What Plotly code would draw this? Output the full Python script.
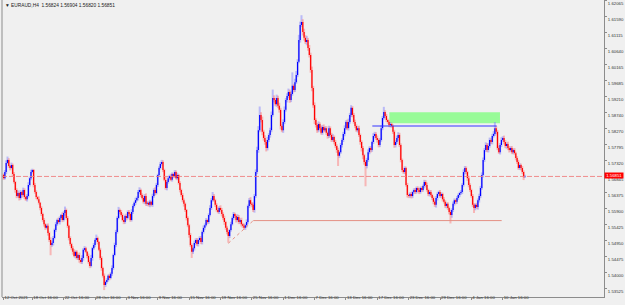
import plotly.graph_objects as go

# ---------------- data (EURAUD, H4) ----------------
symbol_header = "▼ EURAUD,H4  1.56824 1.56904 1.56820 1.56851"
bid_price = 1.56851
first_open = 1.5690

closes = [
    1.5680, 1.5698, 1.5725, 1.5734, 1.5716, 1.5710, 1.5719, 1.5692, 1.5669, 1.5645,
    1.5627, 1.5636, 1.5621, 1.5639, 1.5630, 1.5645, 1.5624, 1.5618, 1.5627, 1.5660,
    1.5680, 1.5698, 1.5704, 1.5660, 1.5639, 1.5624, 1.5618, 1.5607, 1.5592, 1.5574,
    1.5556, 1.5544, 1.5533, 1.5539, 1.5518, 1.5497, 1.5482, 1.5488, 1.5503, 1.5527,
    1.5544, 1.5556, 1.5550, 1.5562, 1.5571, 1.5556, 1.5577, 1.5586, 1.5562, 1.5539,
    1.5503, 1.5485, 1.5473, 1.5462, 1.5450, 1.5462, 1.5444, 1.5453, 1.5438, 1.5432,
    1.5444, 1.5468, 1.5473, 1.5462, 1.5450, 1.5432, 1.5420, 1.5444, 1.5473, 1.5482,
    1.5497, 1.5503, 1.5491, 1.5468, 1.5444, 1.5414, 1.5391, 1.5364, 1.5373, 1.5379,
    1.5391, 1.5385, 1.5397, 1.5414, 1.5453, 1.5482, 1.5521, 1.5562, 1.5586, 1.5580,
    1.5571, 1.5556, 1.5550, 1.5568, 1.5562, 1.5580, 1.5574, 1.5556, 1.5580, 1.5598,
    1.5607, 1.5615, 1.5621, 1.5639, 1.5645, 1.5630, 1.5621, 1.5610, 1.5627, 1.5604,
    1.5607, 1.5601, 1.5610, 1.5601, 1.5627, 1.5645, 1.5636, 1.5660, 1.5689, 1.5710,
    1.5722, 1.5728, 1.5704, 1.5675, 1.5651, 1.5669, 1.5680, 1.5686, 1.5675, 1.5692,
    1.5686, 1.5698, 1.5680, 1.5689, 1.5666, 1.5645, 1.5630, 1.5615, 1.5604, 1.5586,
    1.5562, 1.5541, 1.5512, 1.5482, 1.5462, 1.5473, 1.5488, 1.5497, 1.5485, 1.5497,
    1.5503, 1.5491, 1.5521, 1.5533, 1.5541, 1.5556, 1.5550, 1.5571, 1.5592, 1.5615,
    1.5627, 1.5615, 1.5601, 1.5586, 1.5580, 1.5592, 1.5586, 1.5574, 1.5562, 1.5550,
    1.5533, 1.5521, 1.5509, 1.5527, 1.5544, 1.5562, 1.5574, 1.5568, 1.5556, 1.5565,
    1.5550, 1.5556, 1.5544, 1.5539, 1.5533, 1.5541, 1.5550, 1.5598, 1.5615, 1.5604,
    1.5601, 1.5586, 1.5627, 1.5698, 1.5763, 1.5822, 1.5867, 1.5852, 1.5817, 1.5799,
    1.5787, 1.5769, 1.5793, 1.5808, 1.5822, 1.5867, 1.5917, 1.5911, 1.5899, 1.5917,
    1.5894, 1.5882, 1.5834, 1.5822, 1.5846, 1.5882, 1.5911, 1.5923, 1.5935, 1.5911,
    1.5929, 1.5953, 1.5941, 1.5964, 1.5985, 1.6024, 1.6089, 1.6133, 1.6142, 1.6112,
    1.6095, 1.6083, 1.6089, 1.6065, 1.6044, 1.6000, 1.5947, 1.5896, 1.5852, 1.5837,
    1.5822, 1.5840, 1.5828, 1.5814, 1.5831, 1.5822, 1.5828, 1.5814, 1.5805, 1.5828,
    1.5808, 1.5793, 1.5802, 1.5787, 1.5775, 1.5763, 1.5746, 1.5757, 1.5778, 1.5793,
    1.5811, 1.5828, 1.5846, 1.5828, 1.5846, 1.5867, 1.5888, 1.5867, 1.5846, 1.5834,
    1.5822, 1.5828, 1.5808, 1.5787, 1.5769, 1.5748, 1.5728, 1.5716, 1.5734, 1.5757,
    1.5769, 1.5763, 1.5787, 1.5805, 1.5811, 1.5799, 1.5793, 1.5778, 1.5793, 1.5828,
    1.5858, 1.5876, 1.5864, 1.5852, 1.5846, 1.5837, 1.5840, 1.5834, 1.5817, 1.5778,
    1.5787, 1.5799, 1.5808, 1.5778, 1.5734, 1.5704, 1.5698, 1.5710, 1.5660, 1.5630,
    1.5627, 1.5633, 1.5627, 1.5639, 1.5645, 1.5639, 1.5651, 1.5645, 1.5639, 1.5651,
    1.5645, 1.5657, 1.5669, 1.5660, 1.5645, 1.5633, 1.5639, 1.5630, 1.5621, 1.5610,
    1.5601, 1.5621, 1.5633, 1.5639, 1.5627, 1.5633, 1.5618, 1.5610, 1.5598, 1.5604,
    1.5592, 1.5580, 1.5571, 1.5586, 1.5604, 1.5615, 1.5610, 1.5621, 1.5630, 1.5636,
    1.5639, 1.5660, 1.5698, 1.5710, 1.5698, 1.5680, 1.5660, 1.5645, 1.5627, 1.5601,
    1.5592, 1.5601, 1.5595, 1.5615, 1.5627, 1.5651, 1.5689, 1.5734, 1.5763, 1.5778,
    1.5763, 1.5775, 1.5793, 1.5787, 1.5805, 1.5811, 1.5828, 1.5817, 1.5769, 1.5757,
    1.5778, 1.5793, 1.5799, 1.5787, 1.5775, 1.5781, 1.5769, 1.5763, 1.5769, 1.5757,
    1.5763, 1.5754, 1.5740, 1.5728, 1.5710, 1.5719, 1.5710, 1.5698, 1.56824, 1.56851,
]

# wick lengths above / below the body, in pips
upper_wick_pips = [
    4, 6, 8, 10, 5, 3, 7, 4, 6, 3,
    5, 8, 4, 6, 3, 7, 5, 4, 6, 8,
    5, 7, 4, 3, 6, 5, 4, 8, 3, 5,
    4, 6, 3, 5, 7, 4, 8, 5, 6, 4,
    6, 4, 7, 5, 3, 8, 5, 10, 4, 6,
    3, 5, 4, 6, 8, 4, 5, 3, 7, 5,
    8, 5, 6, 4, 3, 7, 5, 9, 4, 6,
    5, 10, 4, 3, 6, 5, 4, 7, 3, 5,
    4, 6, 5, 8, 4, 7, 6, 5, 9, 4,
    6, 5, 8, 4, 7, 5, 6, 4, 8, 5,
    4, 7, 5, 6, 8, 4, 5, 7, 6, 8,
    5, 4, 6, 3, 7, 5, 8, 6, 4, 5,
    6, 6, 5, 4, 8, 5, 6, 4, 7, 5,
    4, 6, 5, 7, 3, 5, 4, 6, 5, 4,
    3, 5, 4, 6, 5, 4, 7, 5, 6, 4,
    5, 6, 4, 7, 5, 6, 4, 5, 8, 6,
    12, 6, 4, 5, 7, 5, 8, 6, 5, 7,
    4, 6, 5, 3, 7, 5, 6, 4, 5, 8,
    6, 5, 7, 4, 6, 5, 8, 4, 6, 9,
    5, 7, 6, 8, 10, 12, 25, 8, 10, 6,
    8, 6, 9, 5, 7, 10, 25, 8, 6, 10,
    7, 9, 6, 5, 8, 10, 6, 8, 10, 7,
    8, 40, 6, 10, 12, 8, 15, 10, 20, 8,
    10, 8, 12, 6, 9, 7, 10, 6, 8, 5,
    6, 8, 5, 7, 6, 8, 5, 6, 4, 7,
    5, 6, 8, 4, 6, 5, 7, 4, 6, 5,
    6, 8, 5, 7, 10, 6, 8, 5, 6, 7,
    5, 6, 7, 4, 5, 6, 4, 5, 6, 8,
    5, 6, 4, 8, 6, 5, 7, 4, 6, 8,
    6, 15, 5, 6, 4, 5, 6, 4, 5, 6,
    5, 7, 8, 6, 5, 4, 6, 5, 4, 6,
    4, 5, 6, 4, 5, 6, 4, 5, 6, 4,
    5, 4, 6, 5, 7, 4, 5, 6, 4, 5,
    4, 6, 5, 4, 6, 5, 4, 6, 5, 4,
    5, 4, 6, 5, 7, 5, 4, 6, 5, 4,
    6, 5, 8, 6, 5, 4, 7, 5, 4, 6,
    5, 4, 6, 5, 7, 6, 8, 7, 6, 8,
    6, 8, 7, 5, 6, 8, 18, 6, 5, 7,
    6, 8, 5, 7, 6, 5, 7, 6, 5, 6,
    5, 6, 4, 5, 6, 5, 4, 6, 5, 5,
]
lower_wick_pips = [
    5, 4, 6, 3, 5, 7, 4, 6, 5, 8,
    6, 4, 7, 5, 8, 4, 6, 5, 7, 4,
    5, 6, 4, 7, 5, 6, 4, 5, 7, 6,
    5, 7, 6, 4, 8, 6, 30, 5, 7, 4,
    6, 5, 4, 7, 5, 6, 4, 8, 5, 6,
    7, 5, 6, 8, 4, 7, 5, 6, 8, 5,
    6, 8, 5, 4, 7, 5, 6, 4, 8, 5,
    6, 5, 7, 4, 6, 8, 5, 15, 6, 5,
    5, 7, 4, 6, 5, 4, 6, 5, 4, 6,
    5, 4, 6, 5, 7, 4, 6, 5, 4, 6,
    5, 6, 4, 7, 5, 6, 4, 5, 7, 6,
    6, 5, 7, 4, 6, 5, 7, 4, 6, 5,
    4, 5, 6, 4, 5, 7, 5, 6, 4, 5,
    6, 5, 4, 6, 5, 7, 5, 6, 8, 6,
    7, 6, 8, 5, 18, 6, 7, 5, 6, 7,
    5, 6, 7, 5, 6, 4, 6, 5, 4, 6,
    5, 4, 6, 5, 4, 6, 5, 7, 6, 8,
    6, 7, 20, 6, 5, 4, 6, 5, 7, 5,
    6, 5, 7, 6, 5, 6, 7, 5, 6, 5,
    7, 6, 8, 5, 6, 8, 6, 7, 10, 8,
    8, 10, 7, 6, 8, 6, 5, 7, 6, 8,
    7, 8, 10, 6, 8, 6, 5, 7, 6, 8,
    6, 5, 7, 6, 5, 6, 4, 8, 6, 10,
    8, 6, 10, 8, 7, 8, 10, 8, 12, 7,
    8, 6, 7, 5, 6, 7, 5, 6, 8, 6,
    7, 6, 5, 7, 6, 8, 30, 6, 5, 7,
    6, 7, 5, 6, 7, 5, 6, 7, 5, 6,
    5, 7, 6, 8, 10, 12, 8, 60, 7, 6,
    6, 7, 5, 6, 7, 6, 8, 7, 6, 5,
    6, 5, 7, 6, 5, 6, 7, 5, 6, 8,
    7, 6, 8, 6, 7, 6, 5, 6, 5, 7,
    6, 5, 7, 6, 5, 6, 5, 7, 6, 5,
    6, 5, 7, 6, 5, 6, 7, 5, 6, 7,
    6, 8, 7, 6, 5, 6, 7, 5, 6, 7,
    6, 7, 25, 8, 6, 5, 7, 6, 5, 6,
    5, 6, 5, 7, 6, 8, 7, 6, 5, 6,
    15, 7, 6, 8, 7, 6, 5, 7, 6, 5,
    6, 7, 5, 6, 7, 5, 6, 7, 6, 5,
    7, 6, 5, 7, 6, 8, 6, 7, 5, 6,
    6, 5, 7, 6, 5, 6, 7, 6, 8, 0,
]

# time-axis labels and the bar they belong to
time_label_bars = [0, 22, 46, 70, 94, 118, 142, 166, 190, 214, 238, 262, 286, 310, 334, 358, 382]
time_labels = ["12 Oct 2021", "18 Oct 16:00", "22 Oct 16:00", "28 Oct 16:00", "3 Nov 16:00",
               "9 Nov 16:00", "15 Nov 16:00", "19 Nov 16:00", "25 Nov 16:00", "1 Dec 16:00",
               "7 Dec 16:00", "13 Dec 16:00", "17 Dec 16:00", "23 Dec 16:00", "29 Dec 16:00",
               "4 Jan 16:00", "10 Jan 16:00"]

# price-axis labels
price_ticks = [1.62065, 1.61590, 1.61115, 1.60640, 1.60165, 1.59685, 1.59210, 1.58740, 1.58270,
               1.57795, 1.57320, 1.56845, 1.56375, 1.55900, 1.55425, 1.54950, 1.54475, 1.54000,
               1.53525]

# drawn analysis objects (bar index / price)
zone_bars = [295.2, 379.9]
zone_prices = [1.58423, 1.58748]
resistance_bars = [282.2, 377.4]
resistance_price = 1.58343
support_bars = [191.1, 381.2]
support_price = 1.55545
trend_bars = [172.0, 191.1]
trend_prices = [1.54873, 1.55545]

# ---------------- derived OHLC ----------------
assert len(closes) == len(upper_wick_pips) == len(lower_wick_pips)
PIP = 0.0001
n = len(closes)
opens = [first_open] + closes[:-1]
highs = [max(o, c) + u * PIP for o, c, u in zip(opens, closes, upper_wick_pips)]
lows = [min(o, c) - l * PIP for o, c, l in zip(opens, closes, lower_wick_pips)]
bars = list(range(n))
up_bars = [i for i in bars if closes[i] >= opens[i]]
down_bars = [i for i in bars if closes[i] < opens[i]]


def segments(idx, a, b):
    xs, ys = [], []
    for i in idx:
        xs += [i, i, None]
        ys += [a[i], b[i], None]
    return xs, ys


fig = go.Figure()
for idx, col in ((up_bars, "rgba(120,120,255,0.45)"), (down_bars, "rgba(255,110,110,0.45)")):
    xs, ys = segments(idx, lows, highs)
    fig.add_trace(go.Scatter(x=xs, y=ys, mode="lines", line=dict(color=col, width=2),
                             hoverinfo="skip"))
for idx, col in ((up_bars, "#0000ff"), (down_bars, "#ff0000")):
    xs, ys = segments(idx, opens, closes)
    fig.add_trace(go.Scatter(x=xs, y=ys, mode="lines", line=dict(color=col, width=1.2),
                             hoverinfo="skip"))

salmon = "rgba(228,140,128,0.95)"
fig.add_shape(type="rect", xref="x", yref="y", x0=zone_bars[0], x1=zone_bars[1],
              y0=zone_prices[0], y1=zone_prices[1], fillcolor="#98fb98",
              line=dict(width=0), layer="below")
fig.add_shape(type="line", xref="x", yref="y", x0=resistance_bars[0], x1=resistance_bars[1],
              y0=resistance_price, y1=resistance_price, line=dict(color="#3535ff", width=1.2))
fig.add_shape(type="line", xref="x", yref="y", x0=support_bars[0], x1=support_bars[1],
              y0=support_price, y1=support_price, line=dict(color=salmon, width=1))
fig.add_shape(type="line", xref="x", yref="y", x0=trend_bars[0], x1=trend_bars[1],
              y0=trend_prices[0], y1=trend_prices[1], line=dict(color=salmon, width=1, dash="dot"))
fig.add_shape(type="line", xref="paper", yref="y", x0=0, x1=1, y0=bid_price, y1=bid_price,
              line=dict(color="rgba(240,130,130,0.9)", width=1, dash="5px,2px"))
fig.add_shape(type="line", xref="paper", yref="paper", x0=0, x1=0, y0=0, y1=1,
              line=dict(color="#8c8c8c", width=1))

fig.add_annotation(xref="paper", yref="y", x=1, y=bid_price, xanchor="left", yanchor="middle",
                   yshift=1, text=f" {bid_price:.5f} ", showarrow=False, bgcolor="#ff0000",
                   borderpad=0, font=dict(size=4.3, color="#ffffff", family="Liberation Sans"))
fig.add_annotation(xref="paper", yref="paper", x=0.002, y=0.997, xanchor="left", yanchor="top",
                   text=symbol_header, showarrow=False,
                   font=dict(size=4.8, color="#202020", family="Liberation Sans"))

axis_font = dict(size=4.3, color="#303030", family="Liberation Sans")
fig.update_layout(
    width=625, height=305,
    margin=dict(l=2, r=21, t=0, b=8),
    paper_bgcolor="#f0f0f0", plot_bgcolor="#f0f0f0",
    showlegend=False,
    xaxis=dict(range=[-1.19, 459.5], tickmode="array", tickvals=time_label_bars,
               ticktext=time_labels, showgrid=False, zeroline=False, showline=True,
               linecolor="#8c8c8c", linewidth=1, ticks="outside", ticklen=2,
               tickcolor="#8c8c8c", tickfont=axis_font, ticklabelposition="outside right",
               tickangle=0, ticklabelstandoff=-4, ticklabeloverflow="allow",
               automargin=False, fixedrange=True),
    yaxis=dict(range=[1.53285, 1.62070], side="right", tickmode="array", tickvals=price_ticks,
               ticktext=[f"{v:.5f}" for v in price_ticks], showgrid=False, zeroline=False,
               showline=True, linecolor="#8c8c8c", linewidth=1, ticks="outside", ticklen=2,
               tickcolor="#8c8c8c", tickfont=axis_font, ticklabelshift=3,
               ticklabeloverflow="allow", automargin=False, fixedrange=True),
)

fig.write_html("out.html")
